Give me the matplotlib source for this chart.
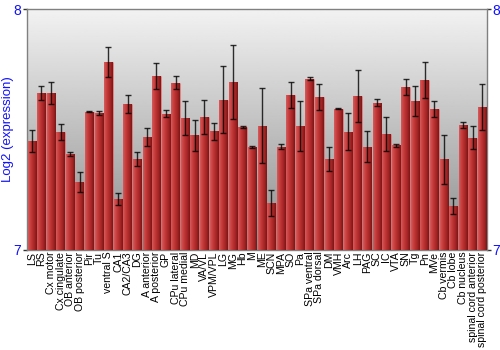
import numpy as np
import matplotlib
matplotlib.use("Agg")
import matplotlib.pyplot as plt
from matplotlib.colors import LinearSegmentedColormap

plt.rcParams['font.family'] = ['Liberation Sans', 'DejaVu Sans']

# 脳領域ごとの発現量 (log2) と誤差
regions = ["LS", "RS", "Cx motor", "Cx cingulate", "OB anterior", "OB posterior",
           "Pir", "Tu", "ventral S", "CA1", "CA2/CA3", "DG", "A anterior",
           "A posterior", "GP", "CPu lateral", "CPu medial", "MD", "VA/VL",
           "VPM/VPL", "LG", "MG", "Hb", "M", "ME", "SCN", "MPA", "SO", "Pa",
           "SPa ventral", "SPa dorsal", "DM", "VMH", "Arc", "LH", "PAG", "SC",
           "IC", "VTA", "SN", "Tg", "Pn", "MVe", "Cb vermis", "Cb lobe",
           "Cb nucleus", "spinal cord anterior", "spinal cord posterior"]
expr = [7.452, 7.653, 7.652, 7.491, 7.398, 7.281, 7.574, 7.568, 7.781, 7.210,
        7.605, 7.377, 7.469, 7.723, 7.566, 7.695, 7.547, 7.476, 7.552, 7.493,
        7.624, 7.698, 7.510, 7.427, 7.515, 7.194, 7.428, 7.644, 7.513, 7.712,
        7.634, 7.377, 7.587, 7.491, 7.640, 7.428, 7.612, 7.480, 7.434, 7.678,
        7.619, 7.705, 7.585, 7.376, 7.180, 7.520, 7.465, 7.595]
err = [0.045, 0.030, 0.045, 0.033, 0.008, 0.040, 0.003, 0.008, 0.061, 0.026,
       0.038, 0.030, 0.038, 0.053, 0.016, 0.026, 0.071, 0.065, 0.069, 0.036,
       0.139, 0.155, 0.004, 0.005, 0.156, 0.055, 0.010, 0.055, 0.104, 0.005,
       0.054, 0.051, 0.003, 0.078, 0.108, 0.065, 0.016, 0.071, 0.006, 0.033,
       0.061, 0.075, 0.032, 0.101, 0.033, 0.013, 0.048, 0.096]
ymin, ymax = 7, 8

fig = plt.figure(figsize=(5, 3.5), dpi=100)
ax = fig.add_axes([0.054, 0.287, 0.92, 0.686])

x = np.arange(len(regions))
ax.set_xlim(-0.5, len(regions) - 0.5)
ax.set_ylim(ymin, ymax)

# 背景グラデーション
bg = np.linspace(0.55, 0.95, 256).reshape(-1, 1)
ax.imshow(bg, cmap='gray', vmin=0, vmax=1, aspect='auto', origin='lower',
          extent=[-0.5, len(regions) - 0.5, ymin, ymax], zorder=0)

bars = ax.bar(x, np.array(expr) - ymin, bottom=ymin, width=0.88,
              color='#b83232', edgecolor=(1, 0.6, 0.6, 0.35), linewidth=0.8,
              zorder=2)

# 棒のグラデーション
cmap = LinearSegmentedColormap.from_list(
    "redbar", ["#d65a5a", "#c43a3a", "#aa2828", "#7e1616"])
grad = np.linspace(0, 1, 64).reshape(1, -1)
for b in bars:
    x0, w, h = b.get_x(), b.get_width(), b.get_height()
    ax.imshow(grad, cmap=cmap, aspect='auto',
              extent=[x0, x0 + w, ymin, ymin + h], zorder=3)

ax.errorbar(x, expr, yerr=err, fmt='none', ecolor=(0, 0, 0, 0.8),
            elinewidth=1, capsize=2.2, capthick=1, zorder=4)

ax.set_xticks(x)
ax.set_xticklabels(regions, rotation=90, fontsize=7.6)
ax.tick_params(axis='x', length=0, pad=1.5)

ax.set_yticks([7, 8])
ax.tick_params(axis='y', colors='#333333', labelcolor='#1010ff', labelsize=10,
               length=3, width=1, left=True, right=True,
               labelleft=True, labelright=True, pad=1)
ax.set_ylabel("Log2 (expression)", color='#1010ff', fontsize=9.5)
ax.yaxis.set_label_coords(-0.029, 0.5)

for s in ax.spines.values():
    s.set_color('#808080')
    s.set_linewidth(1)

fig.savefig("out.png", dpi=100)
